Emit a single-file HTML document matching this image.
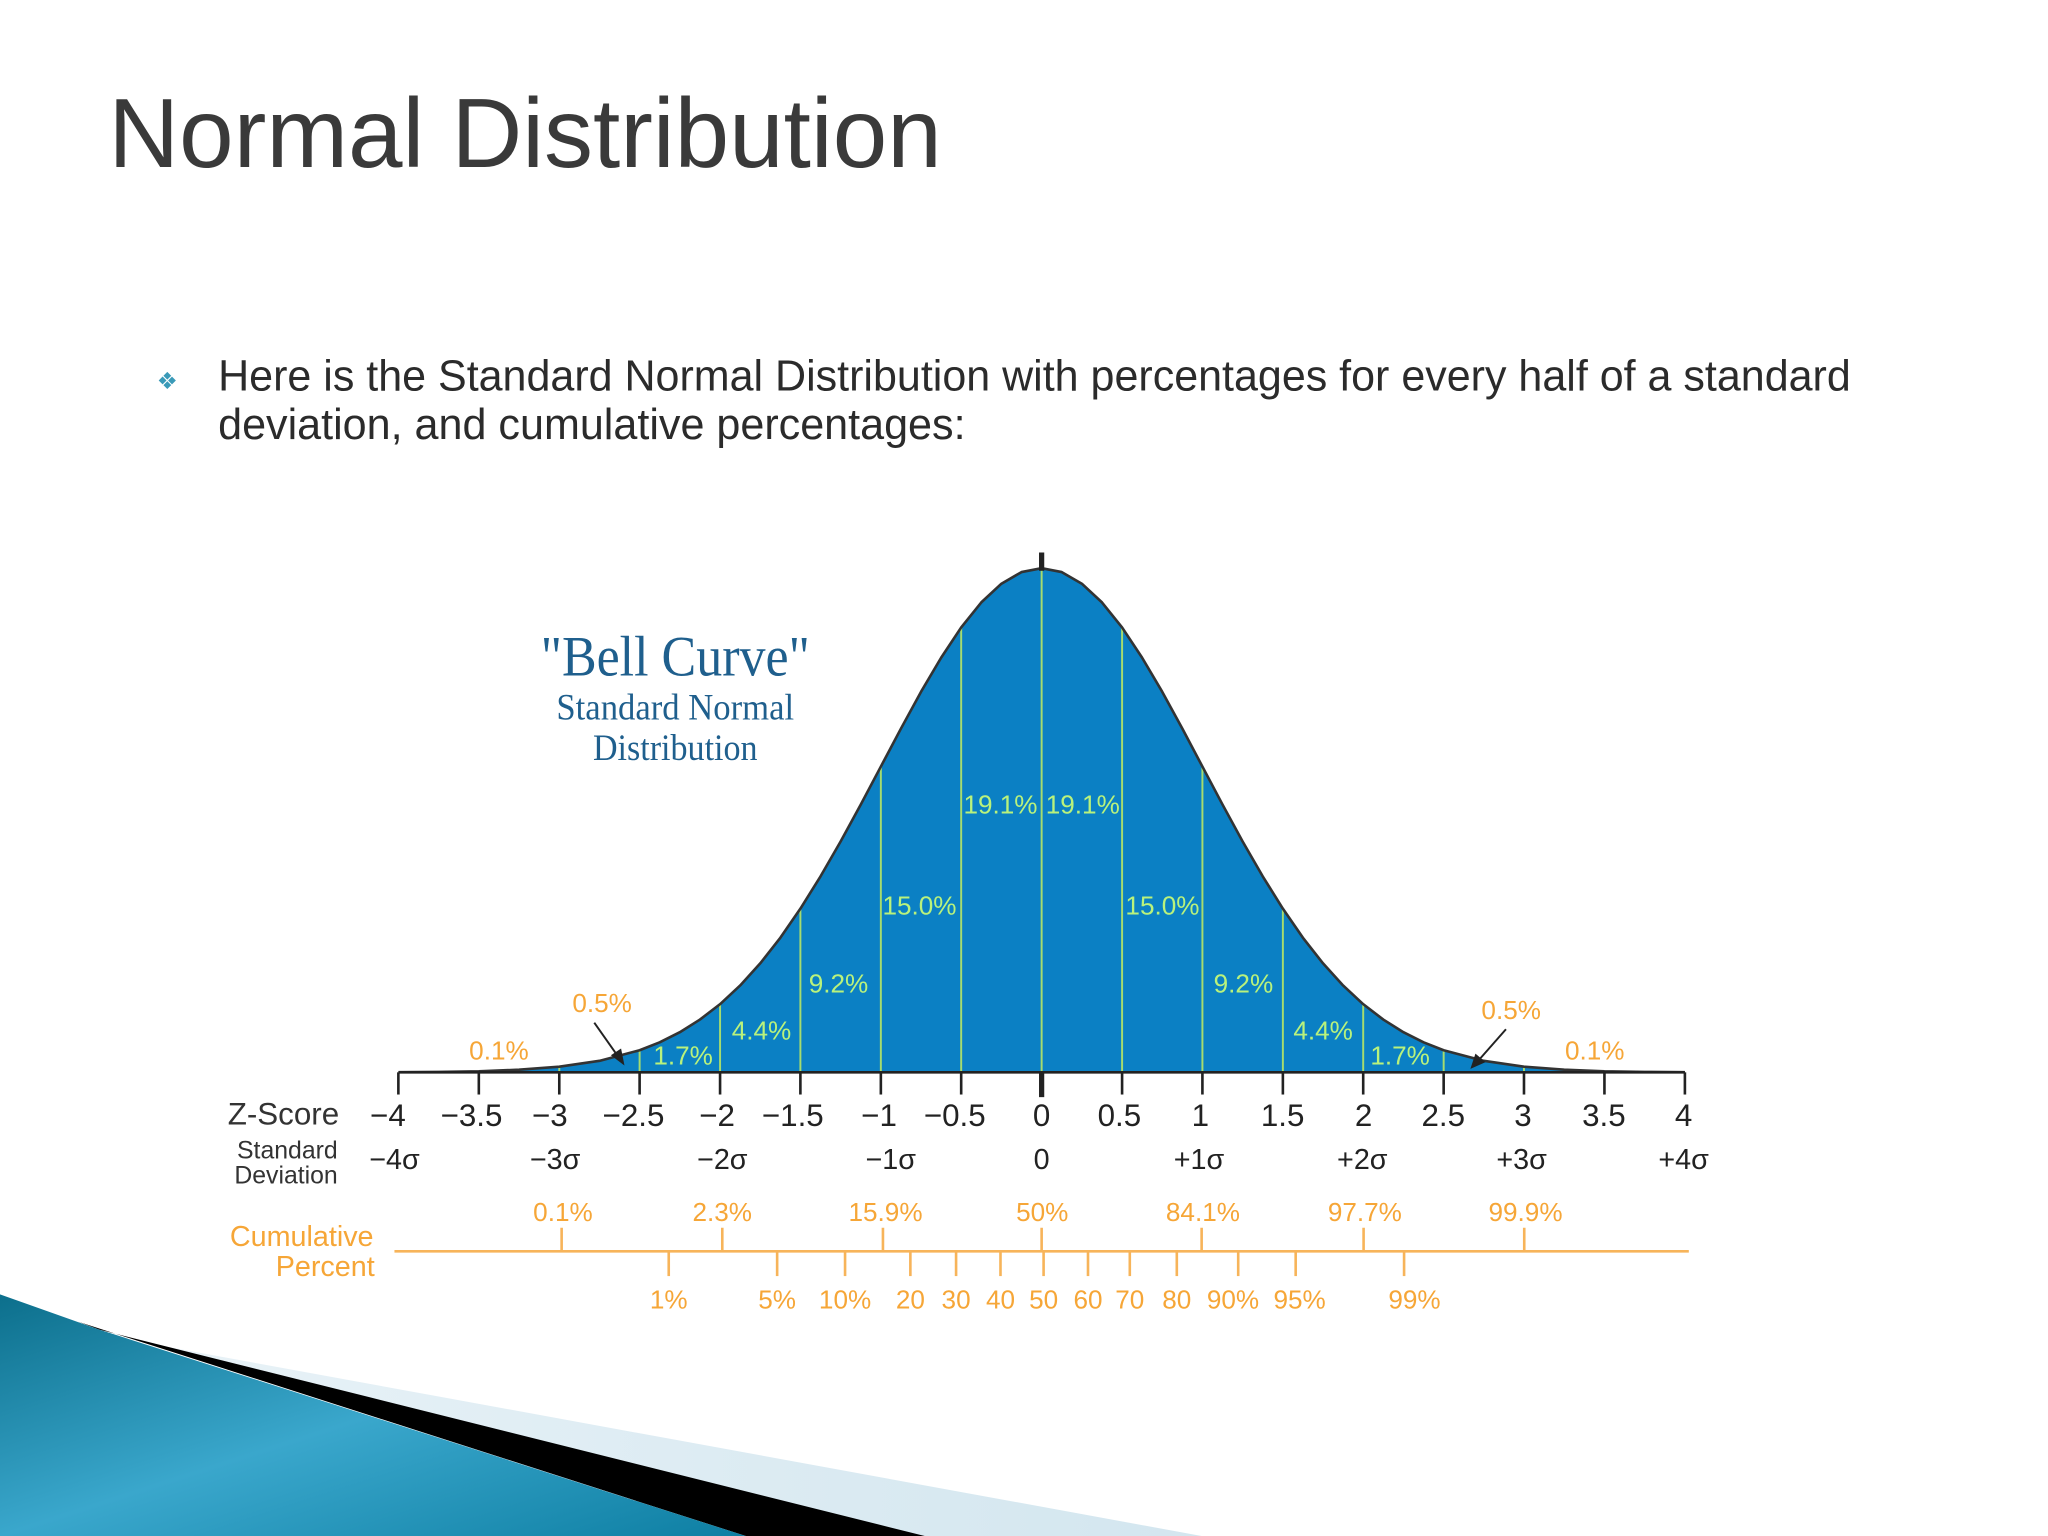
<!DOCTYPE html>
<html><head><meta charset="utf-8"><style>
html,body{margin:0;padding:0;background:#fff;}
svg{display:block;}
</style></head><body>
<svg width="2048" height="1536" viewBox="0 0 1568 1176" xmlns="http://www.w3.org/2000/svg">
<defs>
<linearGradient id="tg" x1="0" y1="0" x2="1" y2="1">
<stop offset="0" stop-color="#0c6f8c"/><stop offset="0.5" stop-color="#3aa7cc"/><stop offset="1" stop-color="#0e7fa3"/>
</linearGradient>
<linearGradient id="lg" x1="0" y1="0" x2="1" y2="0">
<stop offset="0" stop-color="#e8f2f7"/><stop offset="1" stop-color="#d3e6ef"/>
</linearGradient>
</defs>
<rect width="1568" height="1176" fill="#fff"/>
<polygon points="127,1031 920,1176 560,1176" fill="url(#lg)"/>
<polygon points="60,1012 76,1018 708,1176 571,1176" fill="#000"/>
<polygon points="0,991 76,1018 571,1176 0,1176" fill="url(#tg)"/>
<text x="83" y="128" font-family="Liberation Sans, sans-serif" font-size="75" fill="#3a3a3a" textLength="638" lengthAdjust="spacingAndGlyphs">Normal Distribution</text>
<text x="120" y="298" font-family="DejaVu Sans, sans-serif" font-size="18" fill="#3a9ab8">❖</text>
<text font-family="Liberation Sans, sans-serif" font-size="33" fill="#2b2b2b"><tspan x="167" y="299" textLength="1250" lengthAdjust="spacingAndGlyphs">Here is the Standard Normal Distribution with percentages for every half of a standard</tspan><tspan x="167" y="336">deviation, and cumulative percentages:</tspan></text>
<polygon fill="#0b80c4" points="305.1,820.9 335.9,820.7 366.6,820.2 397.4,819 428.2,816.7 459,812.2 489.7,804.1 505.1,798.0 520.5,790.3 535.9,780.6 551.3,768.8 566.7,754.5 582.1,737.5 597.5,717.9 612.8,695.7 628.2,671.0 643.6,644.3 659.0,616.0 674.4,586.9 689.8,557.8 705.2,529.6 720.6,503.5 735.9,480.4 751.3,461.2 766.7,446.9 782.1,438.0 797.5,435 812.9,438.0 828.3,446.9 843.7,461.2 859.1,480.4 874.4,503.5 889.8,529.6 905.2,557.8 920.6,586.9 936.0,616.0 951.4,644.3 966.8,671.0 982.2,695.7 997.5,717.9 1012.9,737.5 1028.3,754.5 1043.7,768.8 1059.1,780.6 1074.5,790.3 1089.9,798.0 1105.3,804.1 1136,812.2 1166.8,816.7 1197.6,819 1228.4,820.2 1259.1,820.7 1289.9,820.9"/>
<g stroke="#a6dc6e" stroke-width="1.5">
<line x1="428.2" y1="821" x2="428.2" y2="817"/><line x1="489.7" y1="821" x2="489.7" y2="804"/>
<line x1="551.3" y1="821" x2="551.3" y2="769"/><line x1="612.8" y1="821" x2="612.8" y2="696"/>
<line x1="674.4" y1="821" x2="674.4" y2="587"/><line x1="735.9" y1="821" x2="735.9" y2="480"/>
<line x1="797.5" y1="821" x2="797.5" y2="435"/><line x1="859.1" y1="821" x2="859.1" y2="480"/>
<line x1="920.6" y1="821" x2="920.6" y2="587"/><line x1="982.2" y1="821" x2="982.2" y2="696"/>
<line x1="1043.7" y1="821" x2="1043.7" y2="769"/><line x1="1105.3" y1="821" x2="1105.3" y2="804"/>
<line x1="1166.8" y1="821" x2="1166.8" y2="817"/>
</g>
<polyline fill="none" stroke="#333" stroke-width="2" stroke-linejoin="round" points="305.1,820.9 335.9,820.7 366.6,820.2 397.4,819 428.2,816.7 459,812.2 489.7,804.1 505.1,798.0 520.5,790.3 535.9,780.6 551.3,768.8 566.7,754.5 582.1,737.5 597.5,717.9 612.8,695.7 628.2,671.0 643.6,644.3 659.0,616.0 674.4,586.9 689.8,557.8 705.2,529.6 720.6,503.5 735.9,480.4 751.3,461.2 766.7,446.9 782.1,438.0 797.5,435 812.9,438.0 828.3,446.9 843.7,461.2 859.1,480.4 874.4,503.5 889.8,529.6 905.2,557.8 920.6,586.9 936.0,616.0 951.4,644.3 966.8,671.0 982.2,695.7 997.5,717.9 1012.9,737.5 1028.3,754.5 1043.7,768.8 1059.1,780.6 1074.5,790.3 1089.9,798.0 1105.3,804.1 1136,812.2 1166.8,816.7 1197.6,819 1228.4,820.2 1259.1,820.7 1289.9,820.9"/>
<g stroke="#222" stroke-width="2">
<line x1="305" y1="821" x2="1290" y2="821"/>
<line x1="305" y1="821" x2="305" y2="838"/><line x1="366.6" y1="821" x2="366.6" y2="838"/>
<line x1="428.2" y1="821" x2="428.2" y2="838"/><line x1="489.7" y1="821" x2="489.7" y2="838"/>
<line x1="551.3" y1="821" x2="551.3" y2="838"/><line x1="612.8" y1="821" x2="612.8" y2="838"/>
<line x1="674.4" y1="821" x2="674.4" y2="838"/><line x1="735.9" y1="821" x2="735.9" y2="838"/>
<line x1="859.1" y1="821" x2="859.1" y2="838"/><line x1="920.6" y1="821" x2="920.6" y2="838"/>
<line x1="982.2" y1="821" x2="982.2" y2="838"/><line x1="1043.7" y1="821" x2="1043.7" y2="838"/>
<line x1="1105.3" y1="821" x2="1105.3" y2="838"/><line x1="1166.8" y1="821" x2="1166.8" y2="838"/>
<line x1="1228.4" y1="821" x2="1228.4" y2="838"/><line x1="1290" y1="821" x2="1290" y2="838"/>
<line x1="797.5" y1="423" x2="797.5" y2="437" stroke-width="4"/>
<line x1="797.5" y1="821" x2="797.5" y2="840" stroke-width="4"/>
</g>
<g stroke="#222" stroke-width="1.5" fill="#222">
<line x1="455" y1="783" x2="474" y2="810"/><polygon points="477,814 469,808 475,804"/>
<line x1="1153" y1="788" x2="1131" y2="813"/><polygon points="1127,817 1130,808 1136,813"/>
</g>
<g font-family="Liberation Sans, sans-serif" font-size="20" fill="#b9f27c" text-anchor="middle">
<text x="766" y="623">19.1%</text><text x="829" y="623">19.1%</text>
<text x="704" y="700">15.0%</text><text x="890" y="700">15.0%</text>
<text x="642" y="760">9.2%</text><text x="952" y="760">9.2%</text>
<text x="583" y="796">4.4%</text><text x="1013" y="796">4.4%</text>
<text x="523" y="815">1.7%</text><text x="1072" y="815">1.7%</text>
</g>
<g font-family="Liberation Sans, sans-serif" font-size="20" fill="#f6a637" text-anchor="middle">
<text x="461" y="775">0.5%</text><text x="1157" y="780">0.5%</text>
<text x="382" y="811">0.1%</text><text x="1221" y="811">0.1%</text>
</g>
<g font-family="Liberation Serif, serif" fill="#1f5f8d" text-anchor="middle">
<text x="517" y="517" font-size="44" textLength="206" lengthAdjust="spacingAndGlyphs">"Bell Curve"</text>
<text x="517" y="551" font-size="28" textLength="182" lengthAdjust="spacingAndGlyphs">Standard Normal</text>
<text x="517" y="582" font-size="28" textLength="126" lengthAdjust="spacingAndGlyphs">Distribution</text>
</g>
<g font-family="Liberation Sans, sans-serif" font-size="24" fill="#222" text-anchor="middle">
<text x="297" y="862">−4</text><text x="361" y="862">−3.5</text><text x="421" y="862">−3</text>
<text x="485" y="862">−2.5</text><text x="549" y="862">−2</text><text x="607" y="862">−1.5</text>
<text x="673" y="862">−1</text><text x="731" y="862">−0.5</text><text x="797.5" y="862">0</text>
<text x="857" y="862">0.5</text><text x="919" y="862">1</text><text x="982" y="862">1.5</text>
<text x="1044" y="862">2</text><text x="1105" y="862">2.5</text><text x="1166" y="862">3</text>
<text x="1228" y="862">3.5</text><text x="1289" y="862">4</text>
</g>
<text x="217" y="861" font-family="Liberation Sans, sans-serif" font-size="24" fill="#333" text-anchor="middle">Z-Score</text>
<g font-family="Liberation Sans, sans-serif" font-size="19" fill="#333" text-anchor="middle">
<text x="220" y="887">Standard</text><text x="219" y="906">Deviation</text>
</g>
<g font-family="Liberation Sans, sans-serif" font-size="22" fill="#222" text-anchor="middle">
<text x="302" y="895">−4σ</text><text x="425" y="895">−3σ</text><text x="553" y="895">−2σ</text>
<text x="682" y="895">−1σ</text><text x="797.5" y="895">0</text><text x="918" y="895">+1σ</text>
<text x="1043" y="895">+2σ</text><text x="1165" y="895">+3σ</text><text x="1289" y="895">+4σ</text>
</g>
<g font-family="Liberation Sans, sans-serif" font-size="22" fill="#f6a637" text-anchor="middle">
<text x="231" y="954">Cumulative</text><text x="249" y="977">Percent</text>
</g>
<g stroke="#f7b45a" stroke-width="2">
<line x1="302" y1="958" x2="1293" y2="958"/>
<line x1="430" y1="940" x2="430" y2="958"/><line x1="553" y1="940" x2="553" y2="958"/>
<line x1="676" y1="940" x2="676" y2="958"/><line x1="797.5" y1="940" x2="797.5" y2="958"/>
<line x1="920" y1="940" x2="920" y2="958"/><line x1="1044" y1="940" x2="1044" y2="958"/>
<line x1="1167" y1="940" x2="1167" y2="958"/>
<line x1="512" y1="958" x2="512" y2="977"/><line x1="595" y1="958" x2="595" y2="977"/>
<line x1="647" y1="958" x2="647" y2="977"/><line x1="697" y1="958" x2="697" y2="977"/>
<line x1="732" y1="958" x2="732" y2="977"/><line x1="766" y1="958" x2="766" y2="977"/>
<line x1="799" y1="958" x2="799" y2="977"/><line x1="833" y1="958" x2="833" y2="977"/>
<line x1="865" y1="958" x2="865" y2="977"/><line x1="901" y1="958" x2="901" y2="977"/>
<line x1="948" y1="958" x2="948" y2="977"/><line x1="992" y1="958" x2="992" y2="977"/>
<line x1="1075" y1="958" x2="1075" y2="977"/>
</g>
<g font-family="Liberation Sans, sans-serif" font-size="20" fill="#f6a637" text-anchor="middle">
<text x="431" y="935">0.1%</text><text x="553" y="935">2.3%</text><text x="678" y="935">15.9%</text>
<text x="798" y="935">50%</text><text x="921" y="935">84.1%</text><text x="1045" y="935">97.7%</text>
<text x="1168" y="935">99.9%</text>
<text x="512" y="1002">1%</text><text x="595" y="1002">5%</text><text x="647" y="1002">10%</text>
<text x="697" y="1002">20</text><text x="732" y="1002">30</text><text x="766" y="1002">40</text>
<text x="799" y="1002">50</text><text x="833" y="1002">60</text><text x="865" y="1002">70</text>
<text x="901" y="1002">80</text><text x="944" y="1002">90%</text><text x="995" y="1002">95%</text>
<text x="1083" y="1002">99%</text>
</g>
</svg>
</body></html>
